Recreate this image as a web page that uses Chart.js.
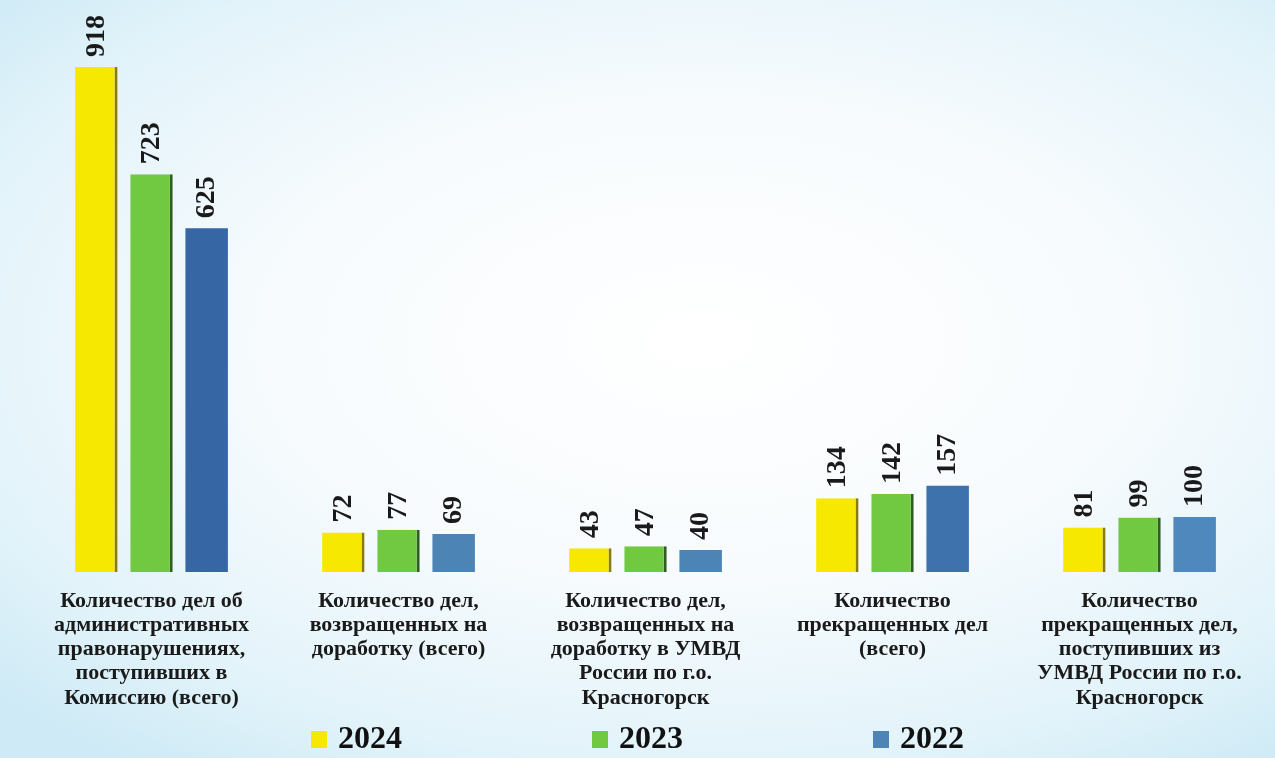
<!DOCTYPE html>
<html lang="ru">
<head>
<meta charset="utf-8">
<script src="https://cdn.jsdelivr.net/npm/chart.js@4/dist/chart.umd.min.js"></script>
<style>
  html, body { margin: 0; padding: 0; }
  body {
    width: 1275px; height: 758px; overflow: hidden;
    background: radial-gradient(ellipse 75% 70% at 55% 45%, #ffffff 0%, #f7fbfd 45%, #e2f3fa 80%, #cdeaf6 100%);
  }
  #wrap { position: absolute; left: 0; top: 0; width: 1275px; height: 758px; }
</style>
</head>
<body>
<div id="wrap"><canvas id="chart"></canvas></div>
<script>
// Данные диаграммы
const categories = [
    ['Количество дел об', 'административных', 'правонарушениях,', 'поступивших в', 'Комиссию (всего)'],
    ['Количество дел,', 'возвращенных на', 'доработку (всего)'],
    ['Количество дел,', 'возвращенных на', 'доработку в УМВД', 'России по г.о.', 'Красногорск'],
    ['Количество', 'прекращенных дел', '(всего)'],
    ['Количество', 'прекращенных дел,', 'поступивших из', 'УМВД России по г.о.', 'Красногорск']
];
const seriesNames = ['2024', '2023', '2022'];
const values2024 = [918, 72, 43, 134, 81];
const values2023 = [723, 77, 47, 142, 99];
const values2022 = [625, 69, 40, 157, 100];

const SERIF = '"Liberation Serif", "Times New Roman", serif';

// Подписи значений над столбцами (повернуты на 90°)
const valueLabels = {
    id: 'valueLabels',
    afterDatasetsDraw(chart) {
        const ctx = chart.ctx;
        ctx.save();
        ctx.font = 'bold 28px ' + SERIF;
        ctx.fillStyle = '#1a1a1a';
        ctx.textAlign = 'left';
        ctx.textBaseline = 'middle';
        chart.data.datasets.forEach((ds, i) => {
            const meta = chart.getDatasetMeta(i);
            meta.data.forEach((bar, j) => {
                ctx.save();
                ctx.translate(bar.x, bar.y - 10);
                ctx.rotate(-Math.PI / 2);
                ctx.fillText(String(ds.data[j]), 0, 0);
                ctx.restore();
            });
        });
        ctx.restore();
    }
};

// Легенда внизу: квадратик + год, с широким шагом
const bottomLegend = {
    id: 'bottomLegend',
    afterDraw(chart) {
        const ctx = chart.ctx;
        const step = 281;
        const y = 739;
        ctx.save();
        ctx.font = 'bold 32px ' + SERIF;
        ctx.textBaseline = 'middle';
        ctx.textAlign = 'left';
        chart.data.datasets.forEach((ds, i) => {
            const cx = chart.width / 2 + (i - 1) * step;
            const tw = ctx.measureText(ds.label).width;
            const total = 27 + tw;
            const x0 = cx - total / 2;
            const color = Array.isArray(ds.backgroundColor) ? ds.backgroundColor[1] : ds.backgroundColor;
            ctx.fillStyle = color;
            ctx.fillRect(x0, y - 8, 16, 17);
            ctx.fillStyle = '#111';
            ctx.fillText(ds.label, x0 + 27, y + 1);
        });
        ctx.restore();
    }
};

const ctx = document.getElementById('chart').getContext('2d');
new Chart(ctx, {
    type: 'bar',
    data: {
        labels: categories,
        datasets: [
            {
                label: seriesNames[0],
                data: values2024,
                backgroundColor: '#f7e800',
                borderColor: '#8a7a10',
                borderWidth: { top: 0, left: 0, bottom: 0, right: 3 }
            },
            {
                label: seriesNames[1],
                data: values2023,
                backgroundColor: '#70c940',
                borderColor: '#2f5d22',
                borderWidth: { top: 0, left: 0, bottom: 0, right: 3 }
            },
            {
                label: seriesNames[2],
                data: values2022,
                backgroundColor: ['#3766a4', '#4d84b6', '#4d84b6', '#3e72ad', '#4f88bc'],
                borderColor: '#2c4f7c',
                borderWidth: 0
            }
        ]
    },
    options: {
        responsive: true,
        maintainAspectRatio: false,
        animation: false,
        categoryPercentage: 0.67,
        barPercentage: 0.77,
        layout: { padding: { left: 28, right: 12, top: 22, bottom: 31 } },
        plugins: {
            legend: { display: false },
            tooltip: { enabled: false }
        },
        scales: {
            x: {
                grid: { display: false, drawTicks: false },
                border: { display: false },
                ticks: {
                    font: { family: SERIF, size: 22, weight: 'bold', lineHeight: 1.1 },
                    color: '#1a1a1a',
                    padding: 17,
                    maxRotation: 0,
                    autoSkip: false
                }
            },
            y: {
                display: false,
                min: 0,
                max: 1000
            }
        }
    },
    plugins: [valueLabels, bottomLegend]
});
</script>
</body>
</html>
